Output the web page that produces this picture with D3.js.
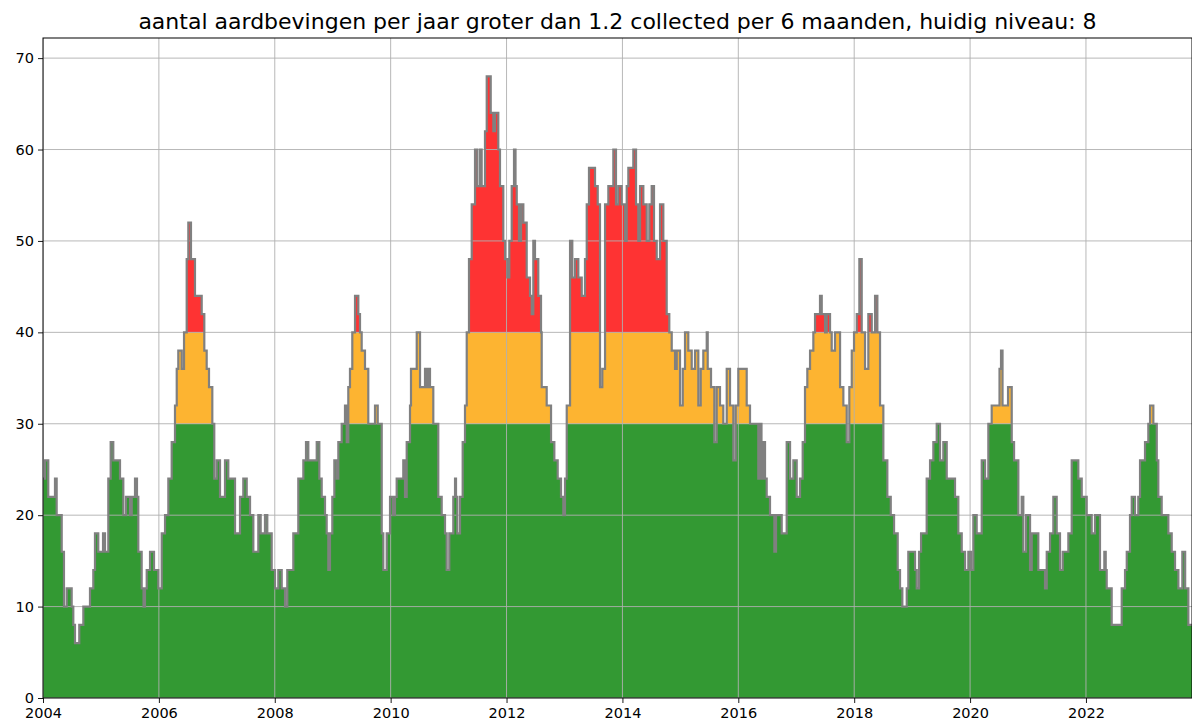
<!DOCTYPE html>
<html>
<head>
<meta charset="utf-8">
<script src="https://cdn.jsdelivr.net/npm/d3@7"></script>
<style>
  body { margin: 0; background: #fff; }
  svg { display: block; font-family: "DejaVu Sans", sans-serif; }
</style>
</head>
<body>
<div id="chart"></div>
<script>
// step change points: decimal year -> count per year (6 month window x2)
const years = [
  2004.000, 2004.035, 2004.091, 2004.207, 2004.236, 2004.323, 2004.362, 2004.409, 2004.495, 2004.523,
  2004.552, 2004.626, 2004.696, 2004.811, 2004.868, 2004.897, 2004.954, 2005.036, 2005.070, 2005.127,
  2005.168, 2005.213, 2005.329, 2005.386, 2005.432, 2005.502, 2005.531, 2005.588, 2005.622, 2005.645,
  2005.703, 2005.735, 2005.760, 2005.790, 2005.847, 2005.916, 2005.990, 2006.049, 2006.106, 2006.163,
  2006.221, 2006.278, 2006.308, 2006.335, 2006.394, 2006.434, 2006.480, 2006.508, 2006.554, 2006.623,
  2006.739, 2006.784, 2006.825, 2006.865, 2006.922, 2006.956, 2006.998, 2007.055, 2007.141, 2007.198,
  2007.314, 2007.400, 2007.457, 2007.516, 2007.573, 2007.630, 2007.716, 2007.757, 2007.831, 2007.871,
  2007.947, 2008.004, 2008.061, 2008.120, 2008.177, 2008.216, 2008.320, 2008.406, 2008.493, 2008.539,
  2008.579, 2008.724, 2008.769, 2008.810, 2008.867, 2008.896, 2008.924, 2008.953, 2008.993, 2009.028,
  2009.069, 2009.097, 2009.155, 2009.212, 2009.242, 2009.269, 2009.298, 2009.338, 2009.385, 2009.442,
  2009.471, 2009.500, 2009.557, 2009.614, 2009.730, 2009.777, 2009.846, 2009.873, 2009.932, 2009.989,
  2010.041, 2010.075, 2010.104, 2010.218, 2010.248, 2010.277, 2010.334, 2010.351, 2010.450, 2010.507,
  2010.593, 2010.622, 2010.650, 2010.679, 2010.736, 2010.822, 2010.881, 2010.938, 2010.967, 2011.012,
  2011.081, 2011.111, 2011.128, 2011.150, 2011.197, 2011.243, 2011.283, 2011.313, 2011.352, 2011.399,
  2011.456, 2011.496, 2011.542, 2011.571, 2011.628, 2011.658, 2011.727, 2011.772, 2011.801, 2011.858,
  2011.887, 2011.944, 2011.974, 2012.013, 2012.048, 2012.089, 2012.129, 2012.155, 2012.176, 2012.215,
  2012.250, 2012.290, 2012.348, 2012.405, 2012.435, 2012.462, 2012.491, 2012.548, 2012.595, 2012.607,
  2012.693, 2012.768, 2012.825, 2012.883, 2012.940, 2012.980, 2013.009, 2013.039, 2013.096, 2013.135,
  2013.182, 2013.239, 2013.298, 2013.354, 2013.384, 2013.423, 2013.527, 2013.574, 2013.613, 2013.653,
  2013.700, 2013.757, 2013.815, 2013.843, 2013.889, 2013.929, 2013.987, 2014.045, 2014.074, 2014.102,
  2014.188, 2014.235, 2014.274, 2014.304, 2014.361, 2014.419, 2014.464, 2014.505, 2014.545, 2014.592,
  2014.649, 2014.706, 2014.764, 2014.809, 2014.851, 2014.908, 2014.937, 2014.994, 2015.041, 2015.080,
  2015.137, 2015.196, 2015.253, 2015.310, 2015.351, 2015.396, 2015.455, 2015.472, 2015.529, 2015.586,
  2015.627, 2015.684, 2015.741, 2015.800, 2015.857, 2015.914, 2015.955, 2016.000, 2016.145, 2016.202,
  2016.345, 2016.375, 2016.400, 2016.432, 2016.461, 2016.490, 2016.547, 2016.622, 2016.651, 2016.749,
  2016.835, 2016.893, 2016.950, 2017.008, 2017.065, 2017.111, 2017.151, 2017.191, 2017.238, 2017.295,
  2017.324, 2017.410, 2017.440, 2017.497, 2017.526, 2017.583, 2017.612, 2017.669, 2017.756, 2017.813,
  2017.871, 2017.916, 2017.958, 2017.997, 2018.044, 2018.089, 2018.130, 2018.187, 2018.244, 2018.303,
  2018.360, 2018.400, 2018.446, 2018.503, 2018.572, 2018.631, 2018.688, 2018.751, 2018.791, 2018.831,
  2018.907, 2018.934, 2019.050, 2019.079, 2019.119, 2019.154, 2019.251, 2019.309, 2019.366, 2019.424,
  2019.481, 2019.538, 2019.597, 2019.740, 2019.797, 2019.856, 2019.913, 2019.970, 2020.016, 2020.056,
  2020.114, 2020.201, 2020.258, 2020.315, 2020.373, 2020.508, 2020.534, 2020.560, 2020.655, 2020.719,
  2020.759, 2020.833, 2020.891, 2020.919, 2020.966, 2021.035, 2021.064, 2021.178, 2021.293, 2021.323,
  2021.380, 2021.437, 2021.495, 2021.552, 2021.599, 2021.696, 2021.754, 2021.868, 2021.927, 2022.013,
  2022.099, 2022.156, 2022.242, 2022.317, 2022.341, 2022.358, 2022.444, 2022.617, 2022.674, 2022.704,
  2022.760, 2022.790, 2022.846, 2022.903, 2022.933, 2023.019, 2023.076, 2023.106, 2023.163, 2023.222,
  2023.249, 2023.307, 2023.422, 2023.480, 2023.537, 2023.595, 2023.663, 2023.712, 2023.767, 2023.830
];
const counts = [
  24, 26, 22, 24, 20, 16, 10, 12, 10, 8,
  6, 8, 10, 12, 14, 18, 16, 18, 16, 24,
  28, 26, 24, 20, 22, 20, 22, 24, 22, 16,
  12, 10, 12, 14, 16, 14, 12, 18, 20, 24,
  28, 32, 36, 38, 36, 40, 48, 52, 48, 44,
  42, 38, 36, 34, 30, 24, 26, 22, 26, 24,
  18, 22, 24, 22, 20, 16, 20, 18, 20, 18,
  14, 12, 14, 12, 10, 14, 18, 24, 26, 28,
  26, 28, 24, 22, 20, 18, 14, 18, 22, 26,
  24, 28, 30, 32, 28, 34, 36, 40, 44, 42,
  40, 38, 36, 30, 32, 30, 18, 14, 18, 22,
  20, 22, 24, 26, 22, 28, 32, 36, 40, 34,
  36, 34, 36, 34, 30, 22, 20, 18, 14, 18,
  22, 24, 22, 18, 22, 28, 32, 40, 48, 54,
  60, 56, 60, 56, 62, 68, 64, 62, 64, 60,
  56, 50, 48, 46, 50, 56, 60, 56, 54, 50,
  54, 52, 46, 44, 42, 50, 48, 44, 40, 34,
  32, 28, 26, 24, 22, 20, 24, 32, 50, 46,
  48, 46, 44, 48, 54, 58, 56, 54, 34, 36,
  54, 56, 56, 60, 54, 56, 54, 50, 56, 58,
  60, 54, 50, 56, 54, 50, 54, 56, 50, 48,
  54, 50, 42, 40, 38, 36, 38, 32, 36, 40,
  38, 36, 38, 32, 36, 38, 40, 36, 34, 28,
  34, 32, 30, 36, 32, 26, 32, 36, 32, 30,
  24, 30, 24, 28, 24, 22, 20, 16, 20, 18,
  28, 24, 26, 22, 24, 28, 34, 36, 38, 40,
  42, 44, 42, 40, 42, 40, 38, 40, 34, 32,
  28, 34, 38, 40, 42, 48, 40, 36, 42, 40,
  44, 40, 32, 26, 22, 20, 18, 14, 12, 10,
  12, 16, 14, 12, 16, 18, 24, 26, 28, 30,
  26, 28, 24, 22, 18, 16, 14, 16, 14, 20,
  18, 26, 24, 30, 32, 36, 38, 32, 34, 28,
  26, 20, 22, 16, 20, 14, 18, 14, 12, 16,
  18, 22, 18, 14, 16, 18, 26, 24, 22, 20,
  18, 20, 14, 16, 14, 12, 8, 12, 14, 16,
  20, 22, 20, 22, 26, 28, 30, 32, 30, 26,
  22, 20, 18, 16, 14, 12, 16, 12, 8, 8
];
const xTicks = [2004, 2006, 2008, 2010, 2012, 2014, 2016, 2018, 2020, 2022];
const yTicks = [0, 10, 20, 30, 40, 50, 60, 70];
const bands = [
  { lo: 0, hi: 30, color: "#339933" },
  { lo: 30, hi: 40, color: "#fdb431" },
  { lo: 40, hi: 1000, color: "#fe3333" }
];
const titleText = "aantal aardbevingen per jaar groter dan 1.2 collected per 6 maanden, huidig niveau: 8";

const W = 1192, H = 726;
const margin = { top: 38, right: 0, bottom: 28, left: 43 };

const data = years.map((t, i) => ({ t: t, v: counts[i] }));

const svg = d3.select("#chart").append("svg")
  .attr("width", W)
  .attr("height", H);

const xScale = d3.scaleLinear()
  .domain([2004, 2023.83])
  .range([margin.left, W - margin.right]);

const yScale = d3.scaleLinear()
  .domain([0, 72.2])
  .range([H - margin.bottom, margin.top]);

svg.append("defs").append("clipPath").attr("id", "plotclip")
  .append("rect")
  .attr("x", margin.left).attr("y", margin.top)
  .attr("width", W - margin.left - margin.right)
  .attr("height", H - margin.top - margin.bottom);

const plot = svg.append("g").attr("clip-path", "url(#plotclip)");

// coloured bands under the step line
bands.forEach(b => {
  const area = d3.area()
    .curve(d3.curveStepAfter)
    .x(d => xScale(d.t))
    .y0(() => yScale(b.lo))
    .y1(d => yScale(Math.max(Math.min(d.v, b.hi), b.lo)));
  plot.append("path")
    .datum(data)
    .attr("d", area)
    .attr("fill", b.color)
    .attr("stroke", "none");
});

// grid
plot.append("g")
  .selectAll("line")
  .data(xTicks)
  .enter().append("line")
  .attr("x1", d => xScale(d)).attr("x2", d => xScale(d))
  .attr("y1", margin.top).attr("y2", H - margin.bottom)
  .attr("stroke", "#b0b0b0").attr("stroke-width", 0.9);

plot.append("g")
  .selectAll("line")
  .data(yTicks)
  .enter().append("line")
  .attr("x1", margin.left).attr("x2", W - margin.right)
  .attr("y1", d => yScale(d)).attr("y2", d => yScale(d))
  .attr("stroke", "#b0b0b0").attr("stroke-width", 0.9);

// step line
const line = d3.line()
  .curve(d3.curveStepAfter)
  .x(d => xScale(d.t))
  .y(d => yScale(d.v));

plot.append("path")
  .datum(data)
  .attr("d", line)
  .attr("fill", "none")
  .attr("stroke", "#808080")
  .attr("stroke-width", 2.2);

// axes
const xAxis = svg.append("g")
  .attr("transform", "translate(0," + (H - margin.bottom) + ")")
  .call(d3.axisBottom(xScale).tickValues(xTicks).tickFormat(d3.format("d"))
    .tickSizeOuter(0).tickSize(5).tickPadding(5));

const yAxis = svg.append("g")
  .attr("transform", "translate(" + margin.left + ",0)")
  .call(d3.axisLeft(yScale).tickValues(yTicks).tickSizeOuter(0).tickSize(5).tickPadding(4));

[xAxis, yAxis].forEach(a => {
  a.select(".domain").remove();
  a.selectAll("text")
    .style("font-family", "DejaVu Sans")
    .style("font-size", "14.5px")
    .attr("fill", "#000");
  a.selectAll("line").attr("stroke", "#000").attr("stroke-width", 0.9);
});

// frame
svg.append("rect")
  .attr("x", margin.left)
  .attr("y", margin.top)
  .attr("width", W - margin.left - margin.right)
  .attr("height", H - margin.top - margin.bottom)
  .attr("fill", "none")
  .attr("stroke", "#000")
  .attr("stroke-width", 1);

svg.append("text")
  .attr("x", (margin.left + W - margin.right) / 2)
  .attr("y", 29)
  .attr("text-anchor", "middle")
  .style("font-family", "DejaVu Sans")
  .style("font-size", "22px")
  .text(titleText);
</script>
</body>
</html>
